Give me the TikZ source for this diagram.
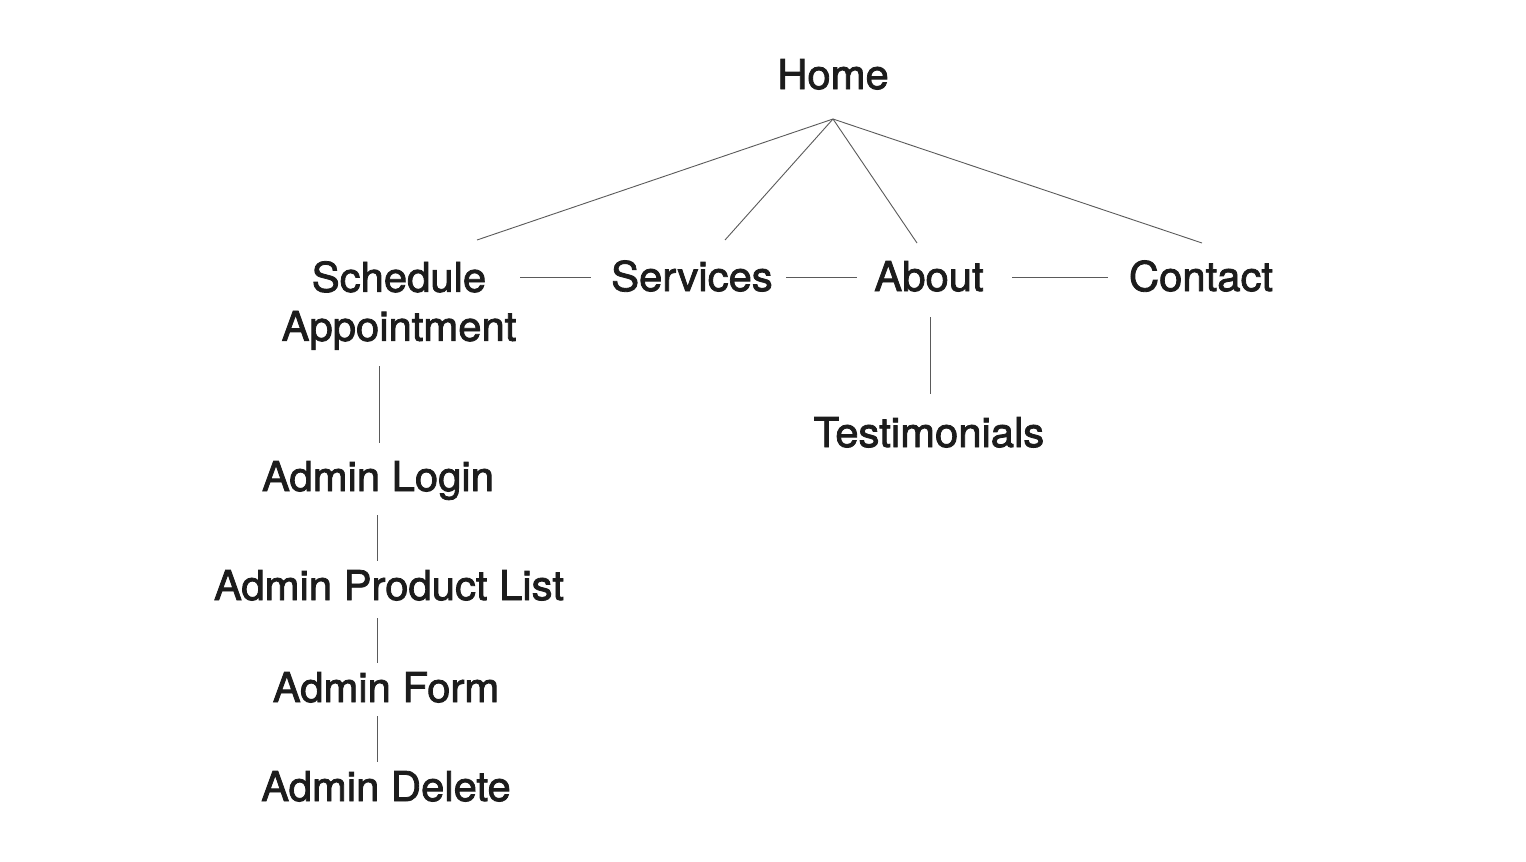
\documentclass[tikz,border=0pt]{standalone}
\usepackage{fontspec}
\setmainfont{TeX Gyre Heros}
\newfontfamily\medfont{TeX Gyre Heros}[FakeBold=2,FakeStretch=1.02]
\definecolor{txt}{HTML}{1C1C1C}
\definecolor{ln}{HTML}{5A5A5A}
\begin{document}
\begin{tikzpicture}[x=1pt,y=-1pt,
  lbl/.style={inner sep=0pt, text=txt, font=\medfont\fontsize{41}{49}\selectfont},
  conn/.style={draw=ln, line width=0.9pt}]
\useasboundingbox (0,0) rectangle (1526,862);
\fill[white] (0,0) rectangle (1526,862);
% nodes (base anchors at baselines)
\node[lbl, anchor=base] (home) at (833,89) {Home};
\node[lbl, anchor=north, align=center] (sched) at (399,261) {Schedule\\Appointment};
\node[lbl, anchor=base] (services) at (692,291) {Services};
\node[lbl, anchor=base] (about) at (929,291) {About};
\node[lbl, anchor=base] (contact) at (1201,291) {Contact};
\node[lbl, anchor=base] (testi) at (929,447) {Testimonials};
\node[lbl, anchor=base] (login) at (378,491) {Admin Login};
\node[lbl, anchor=base] (plist) at (389,600) {Admin Product List};
\node[lbl, anchor=base] (form) at (386,702) {Admin Form};
\node[lbl, anchor=base] (delete) at (386,801) {Admin Delete};
% connector end points
\coordinate (homeTip) at (833,119);
\coordinate (schedTop) at (477,240);
\coordinate (servTop) at (725,240);
\coordinate (aboutTop) at (917,243);
\coordinate (contTop) at (1202,243);
\coordinate (schedR) at (520,277);
\coordinate (servL) at (591,277);
\coordinate (servR) at (786,277);
\coordinate (aboutL) at (857,277);
\coordinate (aboutR) at (1012,277);
\coordinate (contL) at (1108,277);
\coordinate (aboutBot) at (930,317);
\coordinate (testiTop) at (930,394);
\coordinate (schedBot) at (379,366);
\coordinate (loginTop) at (379,443);
\coordinate (loginBot) at (377,515);
\coordinate (plistTop) at (377,561);
\coordinate (plistBot) at (377,618);
\coordinate (formTop) at (377,663);
\coordinate (formBot) at (377,716);
\coordinate (deleteTop) at (377,762);
% connectors
\draw[conn] (homeTip) -- (schedTop);
\draw[conn] (homeTip) -- (servTop);
\draw[conn] (homeTip) -- (aboutTop);
\draw[conn] (homeTip) -- (contTop);
\draw[conn] (schedR) -- (servL);
\draw[conn] (servR) -- (aboutL);
\draw[conn] (aboutR) -- (contL);
\draw[conn] (aboutBot) -- (testiTop);
\draw[conn] (schedBot) -- (loginTop);
\draw[conn] (loginBot) -- (plistTop);
\draw[conn] (plistBot) -- (formTop);
\draw[conn] (formBot) -- (deleteTop);
\end{tikzpicture}
\end{document}
